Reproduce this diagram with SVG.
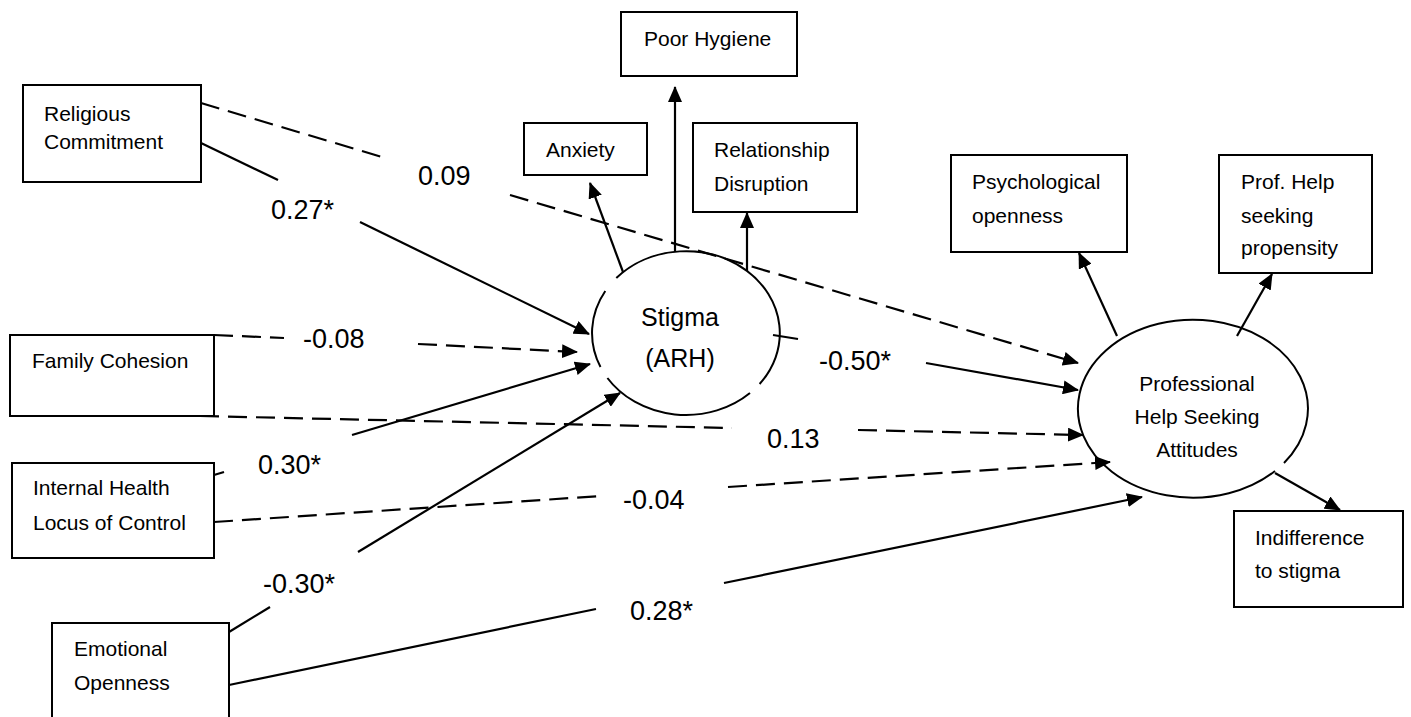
<svg xmlns="http://www.w3.org/2000/svg" width="1411" height="717" viewBox="0 0 1411 717">
  <style>
    .box { fill: #fff; stroke: #000; stroke-width: 2; }
    .oval { fill: none; stroke: #000; stroke-width: 2; }
    .txt { font-family: "Liberation Sans", Arial, sans-serif; font-size: 21px; fill: #000; }
    .big { font-family: "Liberation Sans", Arial, sans-serif; font-size: 25px; fill: #000; }
    .coef { font-family: "Liberation Sans", Arial, sans-serif; font-size: 27px; fill: #000; }
    .solid { fill: none; stroke: #000; stroke-width: 2.2; }
    .dash { fill: none; stroke: #000; stroke-width: 2.2; stroke-dasharray: 19 9; }
  </style>
  <defs>
    <marker id="head" markerUnits="userSpaceOnUse" markerWidth="16" markerHeight="14" refX="15" refY="7" orient="auto">
      <path d="M0,0 L16,7 L0,14 Z" fill="#000"/>
    </marker>
  </defs>
  <rect width="1411" height="717" fill="#fff"/>

  <!-- predictors -->
  <g id="religious-commitment">
    <rect class="box" x="23" y="85" width="178" height="97"/>
    <text class="txt" x="44" y="121">Religious</text>
    <text class="txt" x="44" y="149">Commitment</text>
  </g>
  <g id="family-cohesion">
    <rect class="box" x="10" y="335" width="204" height="81"/>
    <text class="txt" x="32" y="368">Family Cohesion</text>
  </g>
  <g id="internal-health-locus">
    <rect class="box" x="12" y="463" width="202" height="95"/>
    <text class="txt" x="33" y="495">Internal Health</text>
    <text class="txt" x="33" y="530">Locus of Control</text>
  </g>
  <g id="emotional-openness">
    <rect class="box" x="52" y="623" width="177" height="100"/>
    <text class="txt" x="74" y="656">Emotional</text>
    <text class="txt" x="74" y="690">Openness</text>
  </g>

  <!-- stigma indicators -->
  <g id="poor-hygiene">
    <rect class="box" x="621" y="12" width="176" height="64"/>
    <text class="txt" x="644" y="46">Poor Hygiene</text>
  </g>
  <g id="anxiety">
    <rect class="box" x="524" y="123" width="123" height="52"/>
    <text class="txt" x="546" y="157">Anxiety</text>
  </g>
  <g id="relationship-disruption">
    <rect class="box" x="693" y="123" width="164" height="89"/>
    <text class="txt" x="714" y="157">Relationship</text>
    <text class="txt" x="714" y="191">Disruption</text>
  </g>

  <!-- latent: stigma (drawn as arcs, with small breaks in the outline) -->
  <g id="stigma">
    <path class="oval" d="M616.3,278 A94,82 0 0 1 759.6,384 M750,393 A94,82 0 0 1 607.4,378 M600.5,367 A94,82 0 0 1 605.3,291"/>
    <text class="big" x="680" y="326" text-anchor="middle">Stigma</text>
    <text class="big" x="680" y="367" text-anchor="middle">(ARH)</text>
  </g>

  <!-- latent: help seeking attitudes -->
  <g id="help-seeking-attitudes">
    <path class="oval" d="M1275,471 A115,89 0 1 1 1284,463"/>
    <text class="txt" x="1197" y="391" text-anchor="middle">Professional</text>
    <text class="txt" x="1197" y="424" text-anchor="middle">Help Seeking</text>
    <text class="txt" x="1197" y="457" text-anchor="middle">Attitudes</text>
  </g>

  <!-- attitude indicators -->
  <g id="psychological-openness">
    <rect class="box" x="951" y="155" width="176" height="97"/>
    <text class="txt" x="972" y="189">Psychological</text>
    <text class="txt" x="972" y="223">openness</text>
  </g>
  <g id="help-seeking-propensity">
    <rect class="box" x="1219" y="155" width="153" height="118"/>
    <text class="txt" x="1241" y="189">Prof. Help</text>
    <text class="txt" x="1241" y="223">seeking</text>
    <text class="txt" x="1241" y="255">propensity</text>
  </g>
  <g id="indifference-to-stigma">
    <rect class="box" x="1234" y="511" width="169" height="96"/>
    <text class="txt" x="1255" y="545">Indifference</text>
    <text class="txt" x="1255" y="578">to stigma</text>
  </g>

  <g id="connectors">
    <!-- measurement paths -->
    <line class="solid" x1="675" y1="252" x2="675" y2="87" marker-end="url(#head)"/>
    <line class="solid" x1="623" y1="272" x2="590" y2="183" marker-end="url(#head)"/>
    <line class="solid" x1="747" y1="271" x2="747" y2="213" marker-end="url(#head)"/>
    <line class="solid" x1="1117" y1="336" x2="1079" y2="253" marker-end="url(#head)"/>
    <line class="solid" x1="1237" y1="336" x2="1272" y2="274" marker-end="url(#head)"/>
    <line class="solid" x1="1275" y1="473" x2="1340" y2="510" marker-end="url(#head)"/>

    <!-- structural paths, broken where the coefficient sits -->
    <line class="solid" x1="201" y1="143" x2="278" y2="180"/>
    <line class="solid" x1="360" y1="222" x2="589" y2="334" marker-end="url(#head)"/>

    <line class="dash" x1="201" y1="103" x2="382" y2="157"/>
    <line class="dash" x1="510" y1="195" x2="1078" y2="363" marker-end="url(#head)"/>

    <line class="dash" x1="214" y1="335" x2="284" y2="338"/>
    <line class="dash" x1="418" y1="344" x2="577" y2="352" marker-end="url(#head)"/>

    <line class="dash" x1="200" y1="416" x2="732" y2="428"/>
    <line class="dash" x1="858" y1="430" x2="1083" y2="435" marker-end="url(#head)"/>

    <line class="solid" x1="214" y1="475" x2="224" y2="472"/>
    <line class="solid" x1="352" y1="435" x2="590" y2="364" marker-end="url(#head)"/>

    <line class="dash" x1="214" y1="522" x2="601" y2="496"/>
    <line class="dash" x1="728" y1="487" x2="1110" y2="462" marker-end="url(#head)"/>

    <line class="solid" x1="229" y1="632" x2="270" y2="607"/>
    <line class="solid" x1="358" y1="552" x2="620" y2="393" marker-end="url(#head)"/>

    <line class="solid" x1="229" y1="685" x2="596" y2="609"/>
    <line class="solid" x1="724" y1="583" x2="1142" y2="497" marker-end="url(#head)"/>

    <line class="solid" x1="773" y1="335" x2="798" y2="339"/>
    <line class="solid" x1="926" y1="363" x2="1078" y2="390" marker-end="url(#head)"/>

    <!-- path coefficients -->
    <text class="coef" x="271" y="219">0.27*</text>
    <text class="coef" x="418" y="185">0.09</text>
    <text class="coef" x="303" y="348">-0.08</text>
    <text class="coef" x="767" y="448">0.13</text>
    <text class="coef" x="258" y="474">0.30*</text>
    <text class="coef" x="623" y="509">-0.04</text>
    <text class="coef" x="263" y="593">-0.30*</text>
    <text class="coef" x="630" y="620">0.28*</text>
    <text class="coef" x="819" y="370">-0.50*</text>
  </g>
</svg>
